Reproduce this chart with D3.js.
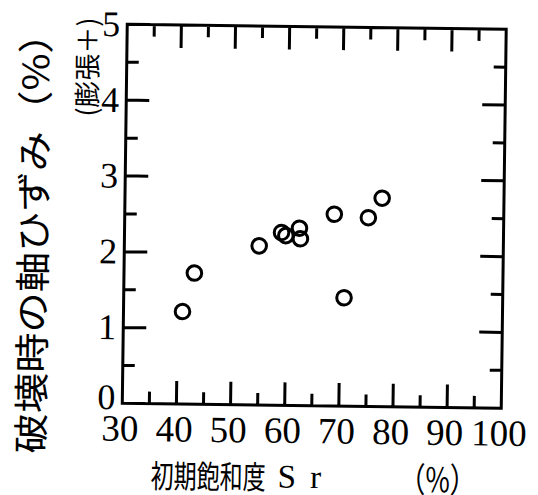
<!DOCTYPE html>
<html>
<head>
<meta charset="utf-8">
<script src="https://cdn.jsdelivr.net/npm/d3@7"></script>
<style>
  html, body { margin: 0; padding: 0; background: #fff; }
  svg { display: block; }
</style>
</head>
<body>
<svg id="chart" width="538" height="495"></svg>
<script>
// Initial degree of saturation Sr (%) for each specimen
const saturation = [40.9, 43.0, 54.9, 59.0, 59.8, 62.3, 62.5, 68.7, 70.7, 75.0, 77.5];
// Axial strain at failure (%), expansion positive
const axialStrain = [1.22, 1.73, 2.10, 2.28, 2.24, 2.34, 2.20, 2.53, 1.43, 2.49, 2.75];

const xTickValues = [30, 40, 50, 60, 70, 80, 90, 100];
const yTickValues = [0, 1, 2, 3, 4, 5];
const xMinorValues = [35, 45, 55, 65, 75, 85, 95];
const yMinorValues = [0.5, 1.5, 2.5, 3.5, 4.5];

const xTitleMain = "初期飽和度";
const xTitleSymbol = "S r";
const xTitleUnit = "（%）";
const yTitle = "破壊時の軸ひずみ（%）";
const ySubTitle = "(膨張＋)";

const plot = { left: 124.75, right: 503.75, top: 26.75, bottom: 405.75 };

const svg = d3.select("#chart");
// the whole sheet sits at a slight clockwise tilt
const g = svg.append("g")
  .attr("transform", `rotate(0.75, ${(plot.left + plot.right) / 2}, ${(plot.top + plot.bottom) / 2})`);

const x = d3.scaleLinear().domain([30, 100]).range([plot.left, plot.right]);
const y = d3.scaleLinear().domain([0, 5]).range([plot.bottom, plot.top]);

const serif = "Liberation Serif, Times New Roman, DejaVu Serif, serif";
const cjk = "Noto Sans CJK JP, sans-serif";
const majorLen = 23, minorLen = 12, lineW = 3;

// frame and inward tick marks as one outline, ticks placed by the scales
const outline = d3.path();
outline.moveTo(plot.left, plot.top);
outline.lineTo(plot.right, plot.top);
outline.lineTo(plot.right, plot.bottom);
outline.lineTo(plot.left, plot.bottom);
outline.closePath();
[[xTickValues, majorLen], [xMinorValues, minorLen]].forEach(([vals, len]) => {
  vals.forEach(v => {
    const px = x(v);
    outline.moveTo(px, plot.bottom); outline.lineTo(px, plot.bottom - len);
    outline.moveTo(px, plot.top); outline.lineTo(px, plot.top + len);
  });
});
[[yTickValues, majorLen], [yMinorValues, minorLen]].forEach(([vals, len]) => {
  vals.forEach(v => {
    const py = y(v);
    outline.moveTo(plot.left, py); outline.lineTo(plot.left + len, py);
    outline.moveTo(plot.right, py); outline.lineTo(plot.right - len, py);
  });
});
g.append("path")
  .attr("d", outline.toString())
  .attr("fill", "none").attr("stroke", "black").attr("stroke-width", lineW);

// tick labels
g.append("g").selectAll("text").data(xTickValues).join("text")
  .attr("x", d => x(d) - 2).attr("y", plot.bottom + 25)
  .attr("text-anchor", "middle").attr("dominant-baseline", "central")
  .attr("font-family", serif).attr("font-size", 37)
  .text(d => d);

g.append("g").selectAll("text").data(yTickValues).join("text")
  .attr("x", plot.left - 7).attr("y", d => y(d) - (d === 0 ? 6 : 0))
  .attr("text-anchor", "end").attr("dominant-baseline", "central")
  .attr("font-family", serif).attr("font-size", 36)
  .text(d => d);

// data points
g.append("g").selectAll("circle").data(saturation).join("circle")
  .attr("cx", d => x(d)).attr("cy", (d, i) => y(axialStrain[i]))
  .attr("r", 7.3)
  .attr("fill", "none").attr("stroke", "black").attr("stroke-width", 3);

// x title: CJK part condensed
g.append("text")
  .attr("transform", "translate(154,476) scale(0.72,1)")
  .attr("dominant-baseline", "central")
  .attr("font-family", cjk).attr("font-size", 32)
  .text(xTitleMain);
g.append("text")
  .attr("x", 281).attr("y", 477).attr("dominant-baseline", "central")
  .attr("font-family", serif).attr("font-size", 33)
  .attr("letter-spacing", 3)
  .text(xTitleSymbol);
g.append("text")
  .attr("transform", "translate(441,476) scale(0.78,1)")
  .attr("text-anchor", "middle").attr("dominant-baseline", "central")
  .attr("font-family", cjk).attr("font-size", 34)
  .text(xTitleUnit);

// y title
g.append("text")
  .attr("transform", "translate(31.5,237) rotate(-90) scale(1.12,1)")
  .attr("text-anchor", "middle").attr("dominant-baseline", "central")
  .attr("font-family", cjk).attr("font-size", 36)
  .text(yTitle);

g.append("text")
  .attr("transform", "translate(84,70) rotate(-90)")
  .attr("text-anchor", "middle").attr("dominant-baseline", "central")
  .attr("font-family", cjk).attr("font-size", 27)
  .text(ySubTitle);
</script>
</body>
</html>
